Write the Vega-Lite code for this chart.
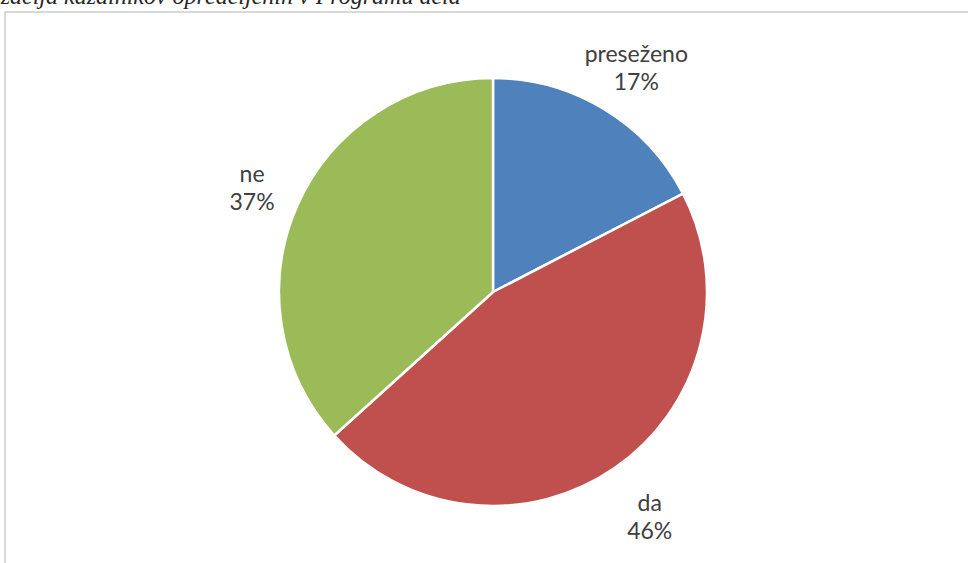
{
  "$schema": "https://vega.github.io/schema/vega-lite/v6.json",
  "autosize": {"type": "none"},
  "width": 976,
  "height": 560,
  "padding": {"left": 5, "top": 12, "right": -13, "bottom": -9},
  "background": "white",
  "title": {
    "text": "Realizacija kazalnikov opredeljenih v Programu dela",
    "anchor": "start",
    "frame": "group",
    "orient": "top",
    "offset": 0,
    "baseline": "alphabetic",
    "dy": 17,
    "dx": -55,
    "font": "Liberation Serif",
    "fontStyle": "italic",
    "fontWeight": "normal",
    "fontSize": 24,
    "color": "#262626"
  },
  "data": {
    "values": [
      {"category": "preseženo", "value": 17.4, "share": "17%"},
      {"category": "da", "value": 45.9, "share": "46%"},
      {"category": "ne", "value": 36.7, "share": "37%"}
    ]
  },
  "transform": [
    {"window": [{"op": "row_number", "as": "idx"}]},
    {"calculate": "datum.category + '\\n' + datum.share", "as": "label"}
  ],
  "layer": [
    {
      "mark": {"type": "rect", "fill": null, "fillOpacity": 0, "stroke": "#d9d9d9", "strokeWidth": 2},
      "encoding": {}
    },
    {
      "mark": {"type": "arc", "outerRadius": 214, "stroke": "white", "strokeWidth": 2.5},
      "encoding": {
        "theta": {"field": "value", "type": "quantitative", "stack": true},
        "order": {"field": "idx", "type": "quantitative"},
        "color": {
          "field": "category",
          "type": "nominal",
          "scale": {"domain": ["preseženo", "da", "ne"], "range": ["#4f81bd", "#c0504d", "#9bbb59"]},
          "legend": null
        }
      }
    },
    {
      "mark": {
        "type": "text",
        "radius": 268,
        "dy": -8,
        "dx": 4,
        "lineBreak": "\n",
        "font": "Lato",
        "fontSize": 23,
        "lineHeight": 28,
        "color": "#404040",
        "align": "center",
        "baseline": "middle"
      },
      "encoding": {
        "theta": {"field": "value", "type": "quantitative", "stack": true},
        "order": {"field": "idx", "type": "quantitative"},
        "text": {"field": "label", "type": "nominal"}
      }
    }
  ],
  "config": {
    "view": {"stroke": null}
  }
}
